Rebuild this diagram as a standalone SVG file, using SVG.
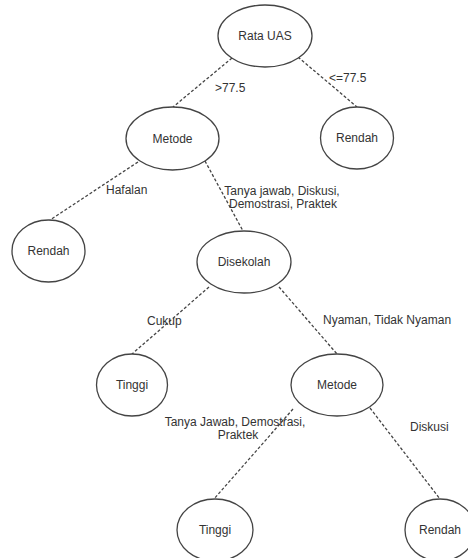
<svg xmlns="http://www.w3.org/2000/svg" width="468" height="558" viewBox="0 0 468 558">
<style>
.n ellipse{fill:#fff;stroke:#444;stroke-width:1.3}
text{font-family:"Liberation Sans",Arial,sans-serif;font-size:12px;fill:#333}
.n text{text-anchor:middle;dominant-baseline:central}
.c line{stroke:#444;stroke-width:1.3;stroke-dasharray:3 2}
</style>
<rect width="468" height="558" fill="#fff"/>
<g class="c" id="connectors">
<line x1="232" y1="58" x2="173" y2="107"/>
<line x1="298" y1="57" x2="357" y2="107"/>
<line x1="138" y1="162" x2="50" y2="220"/>
<line x1="205" y1="161" x2="243" y2="231"/>
<line x1="209" y1="287" x2="132" y2="354"/>
<line x1="279" y1="287" x2="337" y2="354"/>
<line x1="293" y1="409" x2="214" y2="499"/>
<line x1="370" y1="408" x2="440" y2="499"/>
</g>
<g id="labels">
<text x="215" y="92">&gt;77.5</text>
<text x="329" y="82">&lt;=77.5</text>
<text x="106" y="194">Hafalan</text>
<text x="282" y="195" text-anchor="middle">Tanya jawab, Diskusi,</text>
<text x="283" y="208" text-anchor="middle">Demostrasi, Praktek</text>
<text x="147" y="325">Cukup</text>
<text x="323" y="324">Nyaman, Tidak Nyaman</text>
<text x="235" y="426" text-anchor="middle">Tanya Jawab, Demostrasi,</text>
<text x="238" y="439" text-anchor="middle">Praktek</text>
<text x="410" y="431">Diskusi</text>
</g>
<g class="n" id="rata-uas"><ellipse cx="265" cy="36" rx="47" ry="31"/><text x="265" y="36">Rata UAS</text></g>
<g class="n" id="rendah-1"><ellipse cx="357" cy="138" rx="36.5" ry="31"/><text x="357" y="138">Rendah</text></g>
<g class="n" id="metode-1"><ellipse cx="172.5" cy="138.5" rx="46.5" ry="31.5"/><text x="172.5" y="138.5">Metode</text></g>
<g class="n" id="rendah-2"><ellipse cx="48.5" cy="251" rx="36.5" ry="31"/><text x="48.5" y="251">Rendah</text></g>
<g class="n" id="disekolah"><ellipse cx="244" cy="262" rx="47" ry="31"/><text x="244" y="262">Disekolah</text></g>
<g class="n" id="tinggi-1"><ellipse cx="132" cy="385" rx="35.5" ry="31"/><text x="132" y="385">Tinggi</text></g>
<g class="n" id="metode-2"><ellipse cx="337" cy="385" rx="46" ry="31"/><text x="337" y="385">Metode</text></g>
<g class="n" id="tinggi-2"><ellipse cx="215" cy="530" rx="38" ry="31"/><text x="215" y="530">Tinggi</text></g>
<g class="n" id="rendah-3"><ellipse cx="440" cy="530" rx="35" ry="31"/><text x="440" y="530">Rendah</text></g>
</svg>
